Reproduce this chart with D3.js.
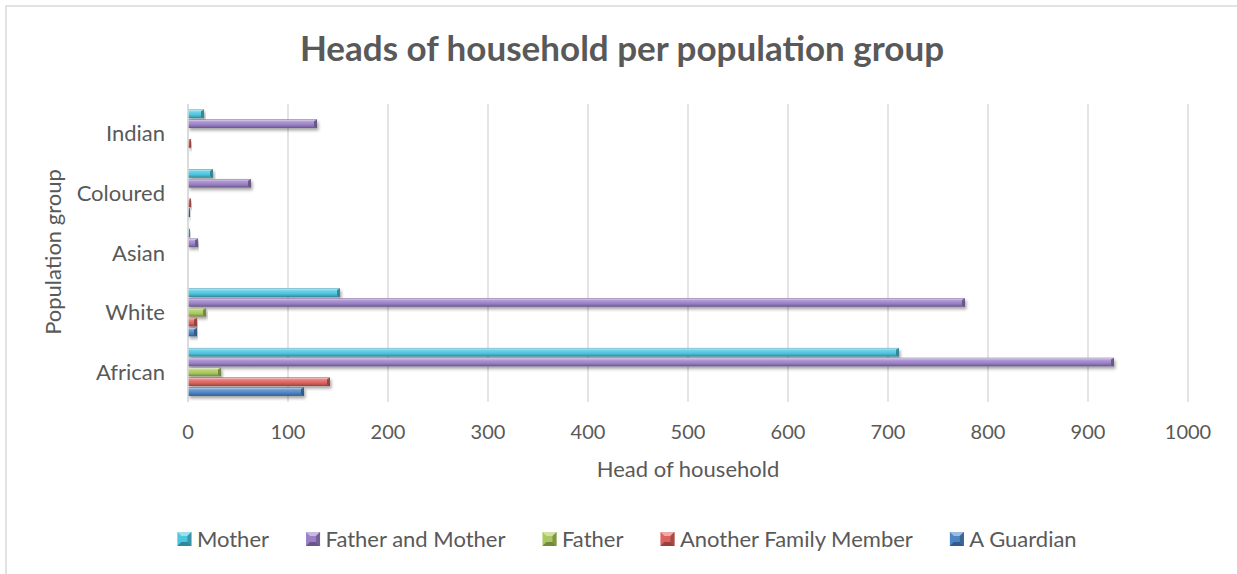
<!DOCTYPE html>
<html>
<head>
<meta charset="utf-8">
<script src="https://cdn.jsdelivr.net/npm/d3@7"></script>
<style>
  html, body { margin: 0; padding: 0; background: #ffffff; }
  svg text { font-family: Lato, "Open Sans", sans-serif; fill: #595959; }
</style>
</head>
<body>
<svg id="chart" width="1237" height="574"></svg>
<script>
// Population groups, bottom to top on the chart
const categories = ["African", "White", "Asian", "Coloured", "Indian"];

// Series, in legend order (top to bottom within each group)
const seriesNames = ["Mother", "Father and Mother", "Father", "Another Family Member", "A Guardian"];

// Counts per population group, aligned with `categories`
const motherValues          = [711, 152, 2, 25, 16];
const fatherAndMotherValues = [926, 777, 10, 63, 129];
const fatherValues          = [33, 18, 0, 0, 0];
const anotherFamilyValues   = [142, 9, 0, 3, 3];
const guardianValues        = [116, 9, 0, 2, 0];

const xTicks = [0, 100, 200, 300, 400, 500, 600, 700, 800, 900, 1000];

const seriesValues = [motherValues, fatherAndMotherValues, fatherValues, anotherFamilyValues, guardianValues];
const seriesColors = ["#4cc5df", "#9b80c7", "#aac85f", "#dc625e", "#4d86c7"];

const svg = d3.select("#chart");
const W = 1237, H = 574;
const plot = { left: 188, right: 1188, top: 104, bottom: 402 };

// chart frame
svg.append("rect")
  .attr("x", 6).attr("y", 6)
  .attr("width", W + 10).attr("height", H + 10)
  .attr("fill", "#fff").attr("stroke", "#d9d9d9").attr("stroke-width", 1.5);

const defs = svg.append("defs");

// soft drop shadow under the bars
const shadow = defs.append("filter").attr("id", "barShadow")
  .attr("x", "-5%").attr("y", "-40%").attr("width", "115%").attr("height", "220%");
shadow.append("feDropShadow")
  .attr("dx", 1.5).attr("dy", 2.5).attr("stdDeviation", 1.6)
  .attr("flood-color", "#000").attr("flood-opacity", 0.35);

// bevelled gradient per series
seriesColors.forEach((c, i) => {
  const base = d3.color(c);
  const g = defs.append("linearGradient").attr("id", "grad" + i)
    .attr("x1", 0).attr("y1", 0).attr("x2", 0).attr("y2", 1);
  const stops = [
    [0, base.darker(0.6)],
    [0.1, d3.interpolateRgb(c, "#ffffff")(0.55)],
    [0.28, d3.interpolateRgb(c, "#ffffff")(0.2)],
    [0.62, base],
    [0.82, base.darker(0.45)],
    [1, base.darker(1.2)]
  ];
  stops.forEach(([o, col]) => g.append("stop").attr("offset", o).attr("stop-color", col.toString()));
});

// scales
const x = d3.scaleLinear().domain([0, 1000]).range([plot.left, plot.right]);
const y0 = d3.scaleBand().domain(categories.slice().reverse())
  .range([plot.top, plot.bottom]).paddingInner(0.175).paddingOuter(0.0875);
const y1 = d3.scaleBand().domain(seriesNames).range([0, y0.bandwidth()]);

// gridlines
svg.append("g").selectAll("line").data(xTicks).join("line")
  .attr("x1", d => x(d)).attr("x2", d => x(d))
  .attr("y1", plot.top).attr("y2", plot.bottom)
  .attr("stroke", "#d9d9d9").attr("stroke-width", 1.4);

// bars
const barH = y1.bandwidth() - 1.2;
const groups = svg.append("g").selectAll("g").data(categories).join("g")
  .attr("transform", d => `translate(0,${y0(d)})`);

groups.each(function (cat, ci) {
  const g = d3.select(this);
  seriesNames.forEach((s, si) => {
    const v = seriesValues[si][ci];
    if (v <= 0) return;
    const bx = x(0), bw = x(v) - x(0), by = y1(s) + 0.3;
    const bar = g.append("g").attr("filter", "url(#barShadow)");
    bar.append("rect")
      .attr("x", bx).attr("y", by).attr("width", bw).attr("height", barH)
      .attr("fill", `url(#grad${si})`);
    // bevelled end cap
    const cap = Math.min(3, bw * 0.5);
    const base = d3.color(seriesColors[si]);
    bar.append("path")
      .attr("d", `M${bx + bw - cap},${by + cap * 0.6} L${bx + bw},${by} L${bx + bw},${by + barH} L${bx + bw - cap},${by + barH - cap * 0.6} Z`)
      .attr("fill", base.darker(1.3).toString()).attr("opacity", 0.85);
  });
});

// category axis line
svg.append("line")
  .attr("x1", plot.left).attr("x2", plot.left)
  .attr("y1", plot.top).attr("y2", plot.bottom)
  .attr("stroke", "#d9d9d9").attr("stroke-width", 1.4);

// x tick labels
svg.append("g").selectAll("text").data(xTicks).join("text")
  .attr("x", d => x(d)).attr("y", 439)
  .attr("text-anchor", "middle").attr("font-size", 20)
  .text(d => d);

// y category labels
svg.append("g").selectAll("text").data(categories).join("text")
  .attr("x", 165).attr("y", d => y0(d) - y0.step() * 0.0875 + y0.step() / 2 + 7.5)
  .attr("text-anchor", "end").attr("font-size", 22)
  .text(d => d);

// axis titles
svg.append("text")
  .attr("x", (plot.left + plot.right) / 2).attr("y", 477)
  .attr("text-anchor", "middle").attr("font-size", 22)
  .text("Head of household");

svg.append("text")
  .attr("transform", "translate(60.5,252) rotate(-90)")
  .attr("text-anchor", "middle").attr("font-size", 22)
  .text("Population group");

// title
svg.append("text")
  .attr("x", 622).attr("y", 61)
  .attr("text-anchor", "middle").attr("font-size", 35).attr("font-weight", "bold")
  .text("Heads of household per population group");

// legend
const legend = svg.append("g");
const legendGap = 37;
let lx = 0;
seriesNames.forEach((s, i) => {
  const it = legend.append("g").attr("transform", `translate(${lx},0)`);
  const m = 14, c = d3.color(seriesColors[i]);
  it.append("rect").attr("x", 0).attr("y", -m / 2).attr("width", m).attr("height", m)
    .attr("fill", c.toString());
  it.append("path").attr("d", `M0,${-m/2} L${m},${-m/2} L${m-4},${-m/2+4} L4,${-m/2+4} Z`)
    .attr("fill", d3.interpolateRgb(c, "#fff")(0.45));
  it.append("path").attr("d", `M${m},${-m/2} L${m},${m/2} L${m-4},${m/2-4} L${m-4},${-m/2+4} Z`)
    .attr("fill", c.darker(0.8).toString());
  it.append("path").attr("d", `M0,${m/2} L${m},${m/2} L${m-4},${m/2-4} L4,${m/2-4} Z`)
    .attr("fill", c.darker(1.1).toString());
  const t = it.append("text").attr("x", m + 5.5).attr("y", 7.5)
    .attr("font-size", 22).text(s);
  const w = m + 5.5 + t.node().getComputedTextLength();
  lx += w + legendGap;
});
const legendW = lx - legendGap;
legend.attr("transform", `translate(${627 - legendW / 2},539)`);
</script>
</body>
</html>
